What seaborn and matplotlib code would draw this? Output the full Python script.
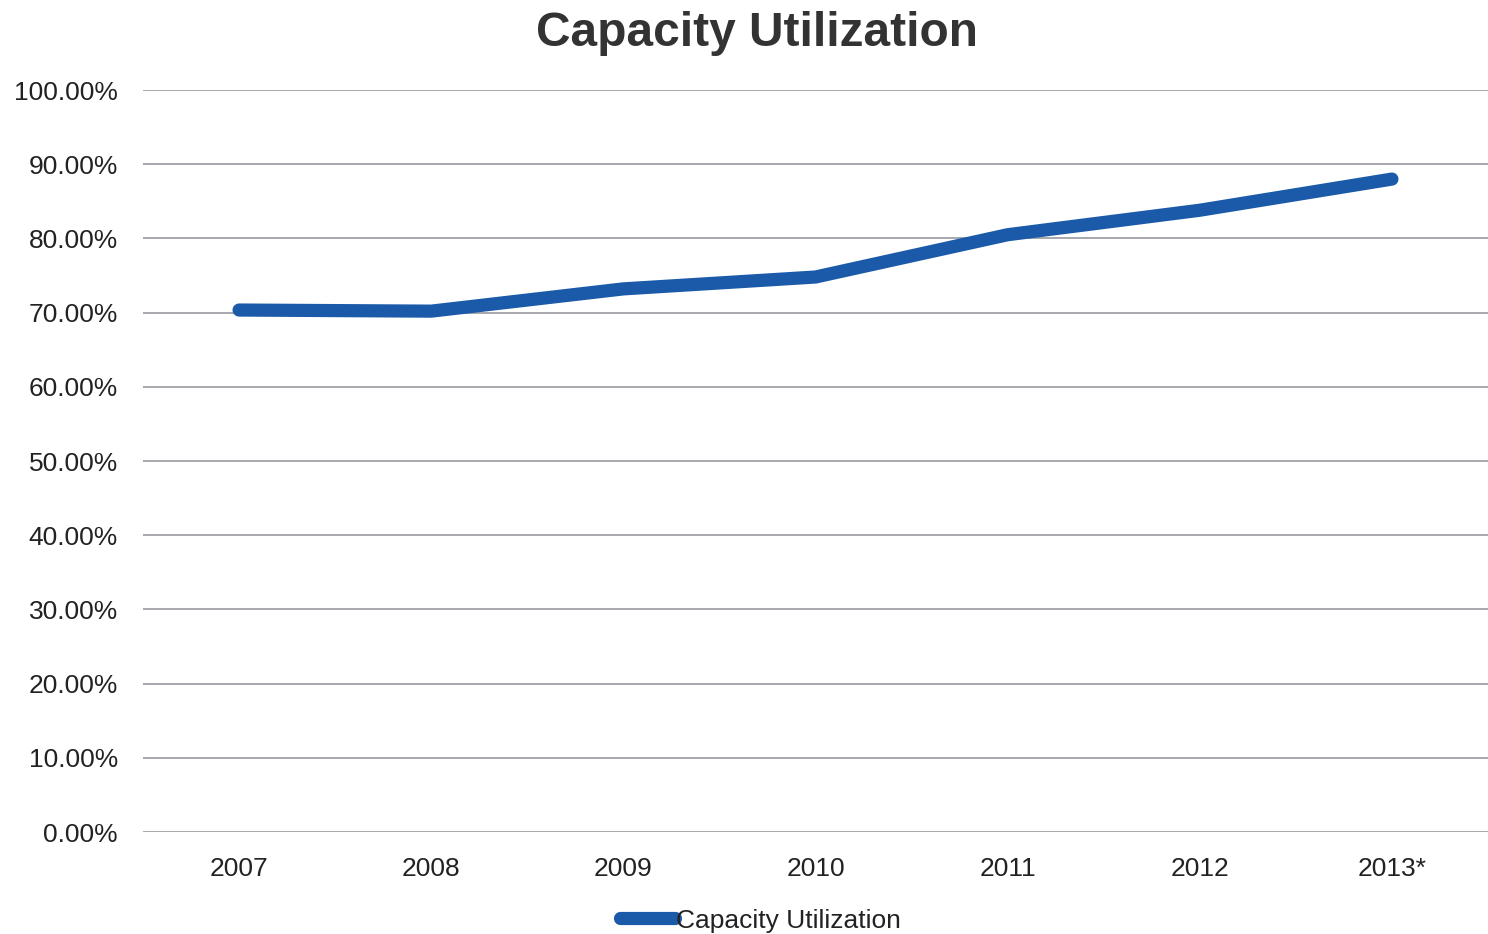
import pandas as pd
import matplotlib.pyplot as plt
import seaborn as sns
from matplotlib.ticker import PercentFormatter

# values
years = ['2007', '2008', '2009', '2010', '2011', '2012', '2013*']
utilization = [70.35, 70.2, 73.2, 74.8, 80.5, 83.8, 88.0]

df = pd.DataFrame({'Year': years, 'Capacity Utilization': utilization})

sns.set_theme(style='white')
plt.rcParams['font.family'] = ['Liberation Sans', 'DejaVu Sans']

fig = plt.figure(figsize=(14.88, 9.34), dpi=100)
ax = fig.add_axes([0.0961, 0.1092, 0.9039, 0.7944])

sns.lineplot(data=df, x='Year', y='Capacity Utilization', ax=ax,
             color='#1a5aa8', linewidth=9.5, solid_capstyle='round',
             label='Capacity Utilization', legend=False, sort=False)

ax.set_ylim(0, 100)
ax.set_xlim(-0.5, 6.5)
ax.set_yticks(range(0, 101, 10))
ax.yaxis.set_major_formatter(PercentFormatter(decimals=2))
ax.grid(axis='y', color='#a0a0a8', linewidth=1.3)
ax.set_axisbelow(True)
for s in ax.spines.values():
    s.set_visible(False)
ax.tick_params(axis='both', length=0, labelsize=19, labelcolor='#222222')
ax.tick_params(axis='y', pad=18)
ax.tick_params(axis='x', pad=18)
ax.set_xlabel('')
ax.set_ylabel('')

fig.suptitle('Capacity Utilization', x=0.509, y=0.988, fontsize=34.5,
             fontweight='bold', color='#333333')

fig.legend(loc='lower center', bbox_to_anchor=(0.511, -0.024), frameon=False,
           fontsize=19, handlelength=2.1, handletextpad=0.05,
           labelcolor='#222222')

fig.savefig('out.png', dpi=100)
